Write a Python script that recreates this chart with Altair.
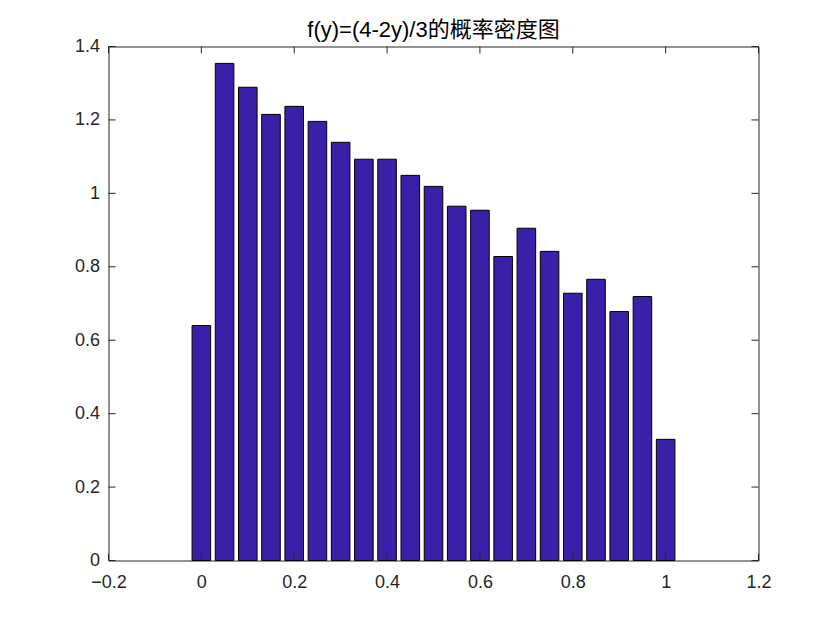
import altair as alt
import pandas as pd

centers = [0.00, 0.05, 0.10, 0.15, 0.20, 0.25, 0.30, 0.35, 0.40, 0.45, 0.50,
           0.55, 0.60, 0.65, 0.70, 0.75, 0.80, 0.85, 0.90, 0.95, 1.00]
density = [0.640, 1.354, 1.289, 1.215, 1.237, 1.196, 1.139, 1.093, 1.093, 1.049, 1.019,
           0.965, 0.954, 0.828, 0.905, 0.842, 0.728, 0.766, 0.678, 0.719, 0.330]
x_ticks = [-0.2, 0.0, 0.2, 0.4, 0.6, 0.8, 1.0, 1.2]
y_ticks = [0.0, 0.2, 0.4, 0.6, 0.8, 1.0, 1.2, 1.4]
title_text = "f(y)=(4-2y)/3的概率密度图"
bar_fraction = 0.8
bin_step = 0.05

W, H = 650, 514
FONT = "Liberation Sans, Arial, Noto Sans CJK SC"

bars_df = pd.DataFrame({"c": centers, "v": density})
bars_df["x0"] = bars_df["c"] - bar_fraction * bin_step / 2
bars_df["x1"] = bars_df["c"] + bar_fraction * bin_step / 2

xs = alt.Scale(domain=[-0.2, 1.2], nice=False, zero=False)
ys = alt.Scale(domain=[0, 1.4], nice=False)

lbl = "datum.value == 0 ? '0' : datum.value == 1 ? '1' : format(datum.value, '.1f')"
xaxis = alt.Axis(values=x_ticks, ticks=False, domain=False, grid=False,
                 labelFont=FONT, labelFontSize=18, labelColor="#262626",
                 labelPadding=13, title=None, labelFlush=False, labelExpr=lbl)
yaxis = alt.Axis(values=y_ticks, ticks=False, domain=False, grid=False,
                 labelFont=FONT, labelFontSize=18, labelColor="#262626",
                 labelPadding=9, title=None, labelFlush=False, labelExpr=lbl)

bars = alt.Chart(bars_df).mark_rect(color="#3A20A8", stroke="black", strokeWidth=1).encode(
    x=alt.X("x0:Q", scale=xs, axis=xaxis),
    x2="x1:Q",
    y=alt.Y("v:Q", scale=ys, axis=yaxis),
    y2=alt.datum(0),
)

xt = pd.DataFrame({"t": x_ticks})
yt = pd.DataFrame({"t": y_ticks})
tick_len = 7

xbot = alt.Chart(xt).mark_rule(color="#262626", strokeWidth=1).encode(
    x=alt.X("t:Q", scale=xs), y=alt.value(H), y2=alt.value(H - tick_len))
xtop = alt.Chart(xt).mark_rule(color="#262626", strokeWidth=1).encode(
    x=alt.X("t:Q", scale=xs), y=alt.value(0), y2=alt.value(tick_len))
yleft = alt.Chart(yt).mark_rule(color="#262626", strokeWidth=1).encode(
    y=alt.Y("t:Q", scale=ys), x=alt.value(0), x2=alt.value(tick_len))
yright = alt.Chart(yt).mark_rule(color="#262626", strokeWidth=1).encode(
    y=alt.Y("t:Q", scale=ys), x=alt.value(W), x2=alt.value(W - tick_len))

chart = alt.layer(bars, xbot, xtop, yleft, yright).properties(
    width=W, height=H,
    title=alt.TitleParams(title_text, font=FONT, fontSize=22, fontWeight="normal",
                          color="black", offset=-4, anchor="middle"),
    autosize=alt.AutoSizeParams(type="none"),
    padding={"left": 100.5, "top": 38.5, "right": 73, "bottom": 61},
).configure(background="white").configure_view(stroke="#262626", strokeWidth=1)

chart.save("out.html", embed_options={"renderer": "svg", "actions": False})
